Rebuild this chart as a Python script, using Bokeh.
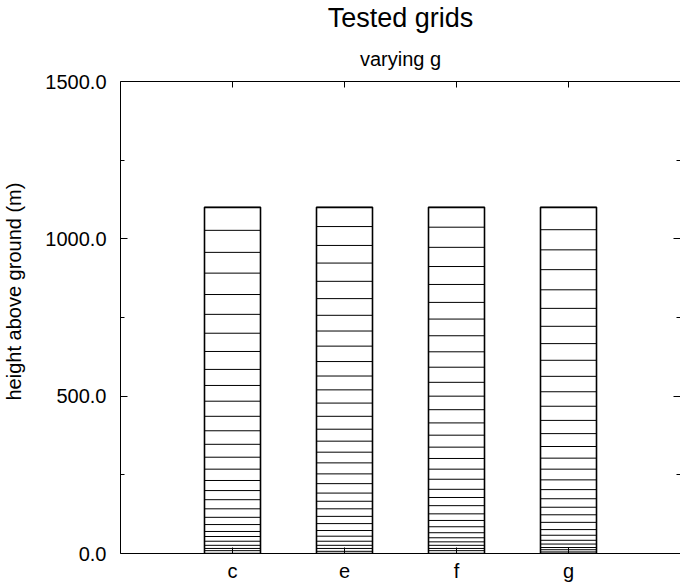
from bokeh.plotting import figure
from bokeh.models import (Range1d, FixedTicker, LinearAxis, Title,
                          ColumnDataSource, NumeralTickFormatter)
from bokeh.embed import file_html
from bokeh.resources import INLINE

categories = ["c", "e", "f", "g"]
levels_c = [0, 9, 16, 26, 39, 54, 70, 92, 115, 142, 171, 200, 232, 268, 306,
            347, 390, 436, 484, 534, 585, 642, 700, 760, 823, 891, 957, 1027, 1100]
levels_e = [0, 7, 16, 26, 39, 55, 73, 95, 118, 142, 166, 192, 222, 253, 288,
            322, 357, 395, 436, 478, 520, 564, 610, 659, 707, 757, 810, 865,
            923, 979, 1039, 1100]
levels_f = [0, 9, 16, 26, 37, 50, 66, 85, 105, 126, 152, 178, 204, 236, 268,
            302, 338, 376, 415, 457, 500, 544, 592, 641, 692, 745, 798, 855,
            912, 973, 1037, 1100]
levels_g = [0, 5, 12, 19, 30, 42, 58, 76, 99, 123, 147, 174, 203, 234, 268,
            303, 340, 381, 423, 468, 514, 563, 614, 667, 722, 779, 838, 902,
            965, 1029, 1100]
y_ticks = [0, 500, 1000, 1500]
y_minor_ticks = [250, 750, 1250]

all_levels = [levels_c, levels_e, levels_f, levels_g]
half = 0.25
FONT = "Liberation Sans"

x0s, x1s, ys = [], [], []
for i, lv in enumerate(all_levels):
    xc = i + 1
    for h in lv:
        x0s.append(xc - half)
        x1s.append(xc + half)
        ys.append(h)
seg_src = ColumnDataSource(dict(x0=x0s, x1=x1s, y=ys))
box_src = ColumnDataSource(dict(
    left=[i + 1 - half for i in range(len(categories))],
    right=[i + 1 + half for i in range(len(categories))],
    bottom=[min(lv) for lv in all_levels],
    top=[max(lv) for lv in all_levels],
))

p = figure(width=680, height=584,
           x_range=Range1d(0, len(categories) + 1), y_range=Range1d(0, 1500),
           output_backend="svg", toolbar_location=None,
           min_border_left=120, min_border_right=0,
           min_border_top=81, min_border_bottom=31)
p.outline_line_color = None
p.xgrid.visible = False
p.ygrid.visible = False
p.background_fill_color = "white"
p.border_fill_color = "white"

p.segment(x0="x0", y0="y", x1="x1", y1="y", source=seg_src,
          line_color="black", line_width=1)
p.quad(left="left", right="right", bottom="bottom", top="top", source=box_src,
       fill_color=None, line_color="black", line_width=1.6)

cat_ticks = [i + 1 for i in range(len(categories))]

# bottom axis
xa = p.xaxis[0]
xa.ticker = FixedTicker(ticks=cat_ticks)
xa.major_label_overrides = {t: c for t, c in zip(cat_ticks, categories)}
xa.major_tick_in = 6
xa.major_tick_out = 0
xa.minor_tick_in = 0
xa.minor_tick_out = 0
xa.major_label_standoff = 6
xa.major_label_text_font = FONT
xa.major_label_text_font_size = "20px"
xa.major_label_text_color = "black"
xa.axis_line_color = "black"
xa.major_tick_line_color = "black"

# left axis
ya = p.yaxis[0]
ya.ticker = FixedTicker(ticks=y_ticks, minor_ticks=y_minor_ticks)
ya.formatter = NumeralTickFormatter(format="0.0")
ya.major_tick_in = 7
ya.major_tick_out = 0
ya.minor_tick_in = 4
ya.minor_tick_out = 0
ya.major_label_standoff = 14
ya.major_label_text_font = FONT
ya.major_label_text_font_size = "20px"
ya.major_label_text_color = "black"
ya.axis_line_color = "black"
ya.major_tick_line_color = "black"
ya.minor_tick_line_color = "black"

# invisible spacer axis between tick labels and the y title
spacer = LinearAxis(ticker=FixedTicker(ticks=[0], minor_ticks=[]),
                    major_label_overrides={0: ""},
                    major_label_text_font_size="1px",
                    axis_line_color=None,
                    major_tick_in=0, major_tick_out=16,
                    minor_tick_in=0, minor_tick_out=0,
                    major_tick_line_color=None, minor_tick_line_color=None,
                    major_label_standoff=0)
p.add_layout(spacer, "left")

# top axis (ticks only)
top_axis = LinearAxis(ticker=FixedTicker(ticks=cat_ticks),
                      major_label_overrides={t: "" for t in cat_ticks},
                      major_label_text_font_size="1px",
                      major_tick_in=6, major_tick_out=0,
                      minor_tick_in=0, minor_tick_out=0,
                      major_label_standoff=0,
                      axis_line_color="black", major_tick_line_color="black")
p.add_layout(top_axis, "above")

# right axis (ticks only)
right_axis = LinearAxis(ticker=FixedTicker(ticks=y_ticks, minor_ticks=y_minor_ticks),
                        major_label_overrides={t: "" for t in y_ticks},
                        major_label_text_font_size="1px",
                        major_tick_in=7, major_tick_out=0,
                        minor_tick_in=4, minor_tick_out=0,
                        major_label_standoff=0,
                        axis_line_color="black", major_tick_line_color="black",
                        minor_tick_line_color="black")
p.add_layout(right_axis, "right")

# titles
p.add_layout(Title(text="varying g", align="center", vertical_align="bottom",
                   standoff=23, text_font=FONT, text_font_size="20px",
                   text_font_style="normal", text_color="black"), "above")
p.title.text = "Tested grids"
p.title.align = "center"
p.title.vertical_align = "top"
p.title.standoff = 0
p.title.text_font = FONT
p.title.text_font_size = "27px"
p.title.text_font_style = "normal"
p.title.text_color = "black"

# y label as a left-side title
p.add_layout(Title(text="height above ground (m)", align="left", offset=153,
                   vertical_align="top", standoff=0, text_font=FONT,
                   text_font_size="20px", text_font_style="normal",
                   text_color="black"), "left")

open("out.html", "w").write(file_html(p, INLINE))
